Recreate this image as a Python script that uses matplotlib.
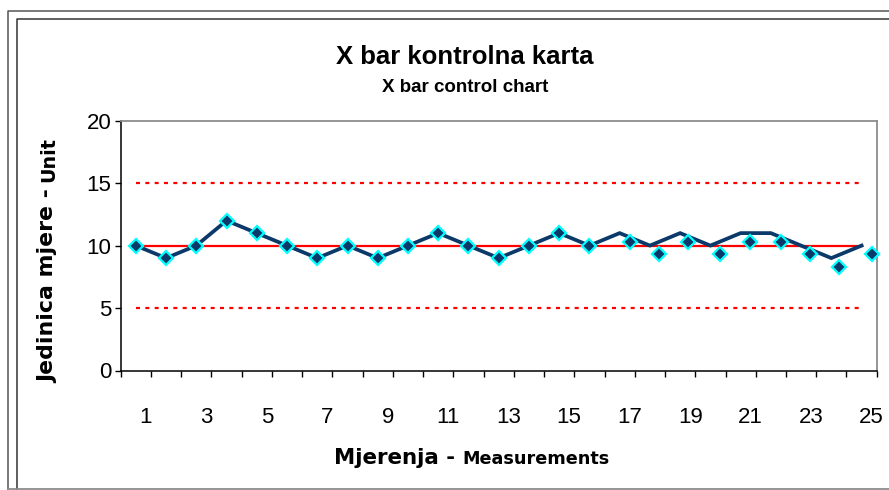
import matplotlib
matplotlib.use('Agg')
import matplotlib.pyplot as plt
from matplotlib.lines import Line2D

plt.rcParams['font.family'] = ['Liberation Sans', 'DejaVu Sans']

# ---- data ----
measurements = list(range(1, 26))
xbar_values = [10, 9, 10, 12, 11, 10, 9, 10, 9, 10, 11, 10, 9, 10, 11, 10,
               11, 10, 11, 10, 11, 11, 10, 9, 10]
marker_x = [1, 2, 3, 4, 5, 6, 7, 8, 9, 10, 11, 12, 13, 14, 15, 16,
            17.33, 18.31, 19.27, 20.32, 21.30, 22.33, 23.29, 24.26, 25.33]
marker_values = [10, 9, 10, 12, 11, 10, 9, 10, 9, 10, 11, 10, 9, 10, 11, 10,
                 10.3, 9.3, 10.3, 9.3, 10.3, 10.3, 9.3, 8.3, 9.3]
center_line = [10] * 25
ucl = [15] * 25
lcl = [5] * 25
y_ticks = [0, 5, 10, 15, 20]
x_tick_labels = [1, 3, 5, 7, 9, 11, 13, 15, 17, 19, 21, 23, 25]

W, H = 889, 490
PX = 0.72  # points per pixel at dpi 100

fig = plt.figure(figsize=(W / 100, H / 100), dpi=100)
fig.patch.set_facecolor('white')

# axes in pixel geometry
L, R, T, B = 120.7, 876.7, 120.7, 370.5
ax = fig.add_axes([L / W, 1 - B / H, (R - L) / W, (B - T) / H])
ax.set_xlim(0.5, 25.5)
ax.set_ylim(0, 20)

navy = '#0b3a6a'
ax.plot(measurements, ucl, color='red', lw=1.6, linestyle=(0, (1.8, 2.4)),
        dash_capstyle='butt', zorder=2)
ax.plot(measurements, lcl, color='red', lw=1.6, linestyle=(0, (1.8, 2.4)),
        dash_capstyle='butt', zorder=2)
ax.plot(measurements, center_line, color='red', lw=1.6, zorder=2)
ax.plot(measurements, xbar_values, color=navy, lw=2.7, zorder=3,
        solid_joinstyle='miter')
ax.plot(marker_x, marker_values, linestyle='none', marker='D', ms=6.8,
        mfc=navy, mec='#00ffff', mew=1.6, zorder=4, clip_on=False)

# spines
for s in ['left', 'bottom']:
    ax.spines[s].set_color('black')
    ax.spines[s].set_linewidth(1.1)
for s in ['top', 'right']:
    ax.spines[s].set_color('#8c8c8c')
    ax.spines[s].set_linewidth(1.3)

# ticks
ax.set_yticks(y_ticks)
ax.set_yticklabels([str(v) for v in y_ticks])
ax.tick_params(axis='y', direction='out', length=6 * PX, width=1, color='black',
               labelsize=16, pad=2.5)
ax.set_xticks([i + 0.5 for i in range(0, 26)])
ax.set_xticklabels([])
ax.tick_params(axis='x', direction='out', length=6 * PX, width=1, color='black')

for k in x_tick_labels:
    ax.annotate(str(k), xy=(k, 0), xycoords=('data', 'axes fraction'),
                xytext=(10 * PX, -36.5 * PX), textcoords='offset points',
                ha='center', va='top', fontsize=16, annotation_clip=False)

# titles
fig.text(465 / W, 1 - 57 / H, 'X bar kontrolna karta', ha='center', va='center',
         fontsize=18.5, fontweight='bold')
fig.text(465 / W, 1 - 87 / H, 'X bar control chart', ha='center', va='center',
         fontsize=13.5, fontweight='bold')

# axis labels (mixed sizes, baseline aligned)
fig.canvas.draw()
renderer = fig.canvas.get_renderer()
lab_font = ['DejaVu Sans']

# x label
x0, yb = 334, 464
t1 = fig.text(x0 / W, 1 - yb / H, 'Mjerenja - ', ha='left', va='baseline',
              fontsize=15.4, fontweight='bold', family=lab_font)
w1 = t1.get_window_extent(renderer).width
fig.text((x0 + w1) / W, 1 - yb / H, 'Measurements', ha='left', va='baseline',
         fontsize=12.7, fontweight='bold', family=lab_font)

# y label
xb, y0 = 54, 383
t2 = fig.text(xb / W, 1 - y0 / H, 'Jedinica mjere - ', ha='left', va='baseline',
              rotation=90, rotation_mode='anchor', fontsize=15.8,
              fontweight='bold', family=lab_font)
h2 = t2.get_window_extent(renderer).height
fig.text(xb / W, 1 - (y0 - h2) / H, 'Unit', ha='left', va='baseline',
         rotation=90, rotation_mode='anchor', fontsize=13.8,
         fontweight='bold', family=lab_font)

# outer frame lines (pixel coordinates)
def fline(xs, ys, color, lw):
    fig.add_artist(Line2D([x / W for x in xs], [1 - y / H for y in ys],
                          color=color, lw=lw, transform=fig.transFigure))

fline([8, 8, 889], [490, 11, 11], '#555555', 1.1)
fline([16.5, 16.5, 889], [489, 19.5, 19.5], '#333333', 1.1)
fline([8, 889], [489.3, 489.3], '#8c8c8c', 1.3)

fig.savefig('out.png', dpi=100)
